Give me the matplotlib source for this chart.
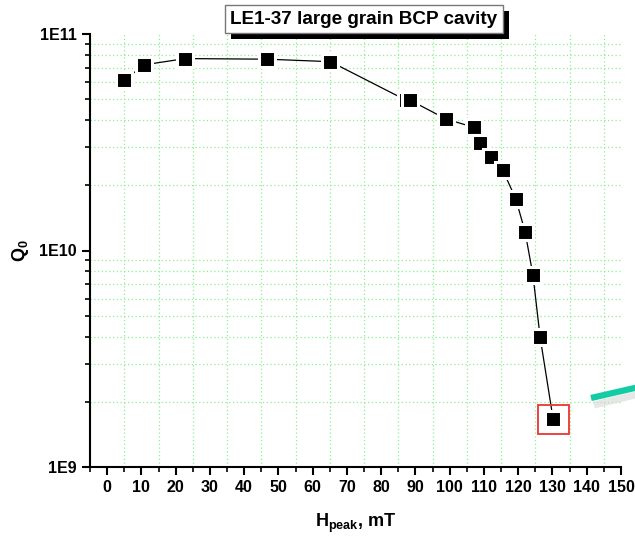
import math
import matplotlib
matplotlib.use("Agg")
import matplotlib.pyplot as plt
from matplotlib.lines import Line2D
from matplotlib.patches import Rectangle
from matplotlib.ticker import LogLocator, FixedLocator, NullFormatter, FuncFormatter

plt.rcParams['font.family'] = ['Liberation Sans', 'DejaVu Sans']
plt.rcParams['mathtext.fontset'] = 'custom'
plt.rcParams['mathtext.rm'] = 'Liberation Sans'
plt.rcParams['mathtext.bf'] = 'Liberation Sans:bold'

# data
h_peak = [5.0, 10.7, 22.8, 46.7, 65.2, 87.2, 88.4, 98.9, 107.2, 108.9, 112.1,
          115.5, 119.3, 122.0, 124.3, 126.4, 130.2]
q0 = [6.1e10, 7.2e10, 7.7e10, 7.65e10, 7.45e10, 4.95e10, 4.95e10, 4.05e10,
      3.7e10, 3.13e10, 2.7e10, 2.35e10, 1.73e10, 1.22e10, 7.7e9, 3.97e9, 1.66e9]
x_ticks = list(range(0, 151, 10))
title = "LE1-37 large grain BCP cavity"

fig = plt.figure(figsize=(6.35, 5.37), dpi=100)
ax = fig.add_axes([90 / 635, 70 / 537, 531 / 635, 433 / 537])

ax.plot(h_peak, q0, color='black', lw=0.9, zorder=3)
ax.plot(h_peak, q0, ls='none', marker='s', markersize=11.2, markerfacecolor='black',
        markeredgecolor='white', markeredgewidth=2.2, zorder=4)

ax.set_yscale('log')
ax.set_xlim(-5, 150)
ax.set_ylim(1e9, 1e11)

ax.xaxis.set_major_locator(FixedLocator(x_ticks))
ax.xaxis.set_minor_locator(FixedLocator(range(-5, 151, 10)))
ax.yaxis.set_major_locator(LogLocator(base=10))
ax.yaxis.set_minor_locator(LogLocator(base=10, subs=range(2, 10)))
ax.yaxis.set_minor_formatter(NullFormatter())
ax.yaxis.set_major_formatter(FuncFormatter(lambda v, p: "1E%d" % round(math.log10(v))))

ax.grid(which='minor', color='#8cf08c', linestyle=(0, (1, 2)), lw=0.9)
ax.grid(which='major', visible=False)
ax.set_axisbelow(True)

for s in ['top', 'right']:
    ax.spines[s].set_visible(False)
for s in ['left', 'bottom']:
    ax.spines[s].set_linewidth(1.5)
ax.tick_params(which='major', direction='out', length=6, width=1.5, labelsize=11.5)
ax.tick_params(which='minor', direction='out', length=3.5, width=1.2)
for lab in ax.get_xticklabels() + ax.get_yticklabels():
    lab.set_fontweight('bold')

ax.set_xlabel(r"H$_{\mathbf{peak}}$, mT", fontsize=13, fontweight='bold', labelpad=12)
ax.set_ylabel(r"Q$_{\mathbf{0}}$", fontsize=13, fontweight='bold', labelpad=6)

# red box round the last point
lx, ly = h_peak[-1], q0[-1]
ax.add_patch(Rectangle((lx - 4.5, ly / 1.17), 9.0, ly * 1.17 - ly / 1.17,
                       fill=False, edgecolor='#ee3333', lw=1.3, zorder=5))

# title box with black shadow
t = fig.text(0.573, 0.964, title, ha='center', va='center', fontsize=13.6,
             fontweight='bold', zorder=10,
             bbox=dict(boxstyle='square,pad=0.3', fc='white', ec='#777777', lw=1))
fig.canvas.draw()
bb = t.get_bbox_patch().get_window_extent()
fig.add_artist(Rectangle((bb.x0 + 6, bb.y0 - 6), bb.width, bb.height,
                         transform=None, fc='black', ec='none', zorder=9))

# teal stroke at right edge with a soft shadow
fig.add_artist(Line2D([594 / 635, 1.02], [1 - 405 / 537, 1 - 392 / 537],
                      transform=fig.transFigure, color='#d8d8d8', lw=5, alpha=0.6,
                      solid_capstyle='butt'))
fig.add_artist(Line2D([591 / 635, 1.02], [1 - 398 / 537, 1 - 385 / 537],
                      transform=fig.transFigure, color='#14cca4', lw=4.5,
                      solid_capstyle='butt'))

fig.savefig("out.png", dpi=100)
